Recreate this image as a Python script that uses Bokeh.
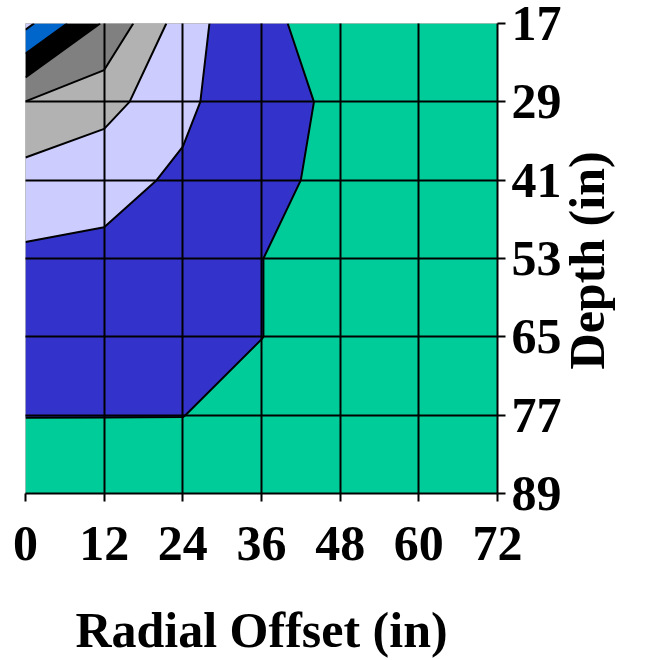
import math

from bokeh.embed import file_html
from bokeh.models import FixedTicker, LinearAxis, Range1d
from bokeh.plotting import figure
from bokeh.resources import INLINE

# Grid of measurement positions
radial_offset = [0, 12, 24, 36, 48, 60, 72]   # in
depth = [17, 29, 41, 53, 65, 77, 89]          # in

# Measured values, one row per depth (columns follow radial_offset)
row_d17 = [36.3, 24.4, 12.5, 5.1, 4.8, 4.5, 4.2]
row_d29 = [19.9, 17.0, 10.8, 7.2, 3.9, 3.5, 3.0]
row_d41 = [13.0, 11.2, 9.4, 6.5, 3.5, 3.0, 2.5]
row_d53 = [9.2, 9.2, 8.0, 5.05, 3.0, 2.5, 2.0]
row_d65 = [8.0, 7.8, 7.0, 5.05, 3.0, 2.5, 2.0]
row_d77 = [5.05, 5.05, 5.05, 3.5, 2.8, 2.3, 2.0]
row_d89 = [3.5, 3.3, 3.0, 2.8, 2.5, 2.2, 2.0]
values = [row_d17, row_d29, row_d41, row_d53, row_d65, row_d77, row_d89]

# Contour bands and their fills (lowest band first)
levels = [0, 5, 10, 15, 20, 25, 30, 35, 40]
band_colors = ["#00CC99", "#3333CC", "#CCCCFF", "#B2B2B2",
               "#808080", "#000000", "#0066CC", "#CCCCFF"]

FONT = "Liberation Serif"

p = figure(
    width=646, height=660,
    x_range=Range1d(0, 72), y_range=Range1d(89, 17),
    y_axis_location="right",
    output_backend="svg", toolbar_location=None,
    min_border_left=25, min_border_top=23,
    min_border_right=149, min_border_bottom=166,
)
p.background_fill_color = "white"
p.border_fill_color = "white"
p.outline_line_color = "#BBBBBB"
p.outline_line_width = 1

p.contour(radial_offset, depth, values, levels,
          fill_color=band_colors, line_color="black", line_width=2)

# black grid drawn over the filled bands
p.xgrid.ticker = FixedTicker(ticks=radial_offset)
p.ygrid.ticker = FixedTicker(ticks=depth[1:])
for g in (p.xgrid, p.ygrid):
    g.grid_line_color = "black"
    g.grid_line_width = 2
    g.grid_line_alpha = 1.0
    g.level = "overlay"

p.xaxis.ticker = FixedTicker(ticks=radial_offset)
p.yaxis.ticker = FixedTicker(ticks=depth)

for ax in (p.xaxis, p.yaxis):
    ax.axis_line_color = "black"
    ax.axis_line_width = 2
    ax.major_tick_line_color = "black"
    ax.major_tick_line_width = 2
    ax.major_tick_out = 8
    ax.major_tick_in = 0
    ax.minor_tick_line_color = None
    ax.major_label_text_font = FONT
    ax.major_label_text_font_style = "bold"
    ax.major_label_text_font_size = "50px"
    ax.major_label_text_color = "black"

p.xaxis.major_label_standoff = 25
p.yaxis.major_label_standoff = 6

p.xaxis.axis_label = "Radial Offset (in)"
p.xaxis.axis_label_standoff = 39
p.xaxis.axis_label_text_font = FONT
p.xaxis.axis_label_text_font_style = "bold"
p.xaxis.axis_label_text_font_size = "50px"
p.xaxis.axis_label_text_color = "black"

# depth title: a bare axis on the right whose single label reads bottom to top
title_tick = 70
depth_title = LinearAxis(
    ticker=FixedTicker(ticks=[title_tick]),
    major_label_overrides={title_tick: "Depth (in)"},
    major_label_orientation=math.pi / 2,
    major_label_standoff=23,
    major_label_text_font=FONT,
    major_label_text_font_style="bold",
    major_label_text_font_size="50px",
    major_label_text_color="black",
    axis_line_color=None,
    major_tick_line_color=None,
    minor_tick_line_color=None,
    major_tick_out=0, major_tick_in=0,
)
p.add_layout(depth_title, "right")

open("out.html", "w").write(file_html(p, INLINE))
